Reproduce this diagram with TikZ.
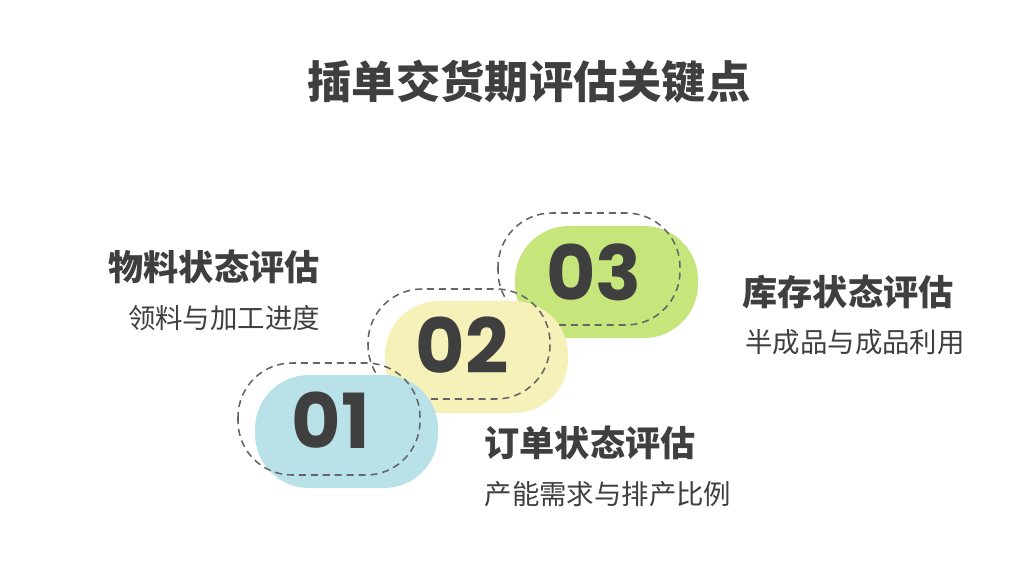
\documentclass[tikz,border=0pt]{standalone}
\usepackage{fontspec}
\setmainfont{Noto Sans CJK SC}
\newfontfamily\numfont{Poppins}
\definecolor{txt}{HTML}{3F3F3F}
\definecolor{cb}{HTML}{B8E1E8}
\definecolor{cy}{HTML}{F6F1B8}
\definecolor{cg}{HTML}{C6E67C}
\begin{document}
\begin{tikzpicture}[x=0.025cm,y=-0.025cm,
  pill/.style={rounded corners=54*0.025cm},
  dashbox/.style={draw=txt!80,line width=1.1pt,dash pattern=on 5pt off 3.5pt,rounded corners=54*0.025cm},
  num/.style={font=\numfont\bfseries\fontsize{54}{56}\selectfont,text=txt},
  head/.style={font=\bfseries\fontsize{25}{28}\selectfont,text=txt},
  sub/.style={font=\fontsize{19.5}{22}\selectfont,text=txt}]
\useasboundingbox (0,0) rectangle (1024,583);
\fill[white] (0,0) rectangle (1024,583);
\node[font=\bfseries\fontsize{31.5}{36}\selectfont,text=txt] (title) at (529,82) {插单交货期评估关键点};
% 03
\fill[cg,pill] (515,226) rectangle (698,338);
\draw[dashbox] (498,213) rectangle (680,325);
\node[num] (n3) at (594,272) {03};
% 02
\fill[cy,pill] (385,301) rectangle (568,413);
\draw[dashbox] (368,289) rectangle (550,399);
\node[num] (n2) at (462,345) {02};
% 01
\fill[cb,pill] (255,375) rectangle (438,488);
\draw[dashbox] (238,363) rectangle (420,475);
\node[num] (n1) at (331,420) {01};
\node[head] (h1) at (214,267) {物料状态评估};
\node[sub] (s1) at (224,318) {领料与加工进度};
\node[head] (h3) at (848,292) {库存状态评估};
\node[sub] (s3) at (855,342) {半成品与成品利用};
\node[head] (h2) at (590,443) {订单状态评估};
\node[sub] (s2) at (608,494) {产能需求与排产比例};
\end{tikzpicture}
\end{document}
